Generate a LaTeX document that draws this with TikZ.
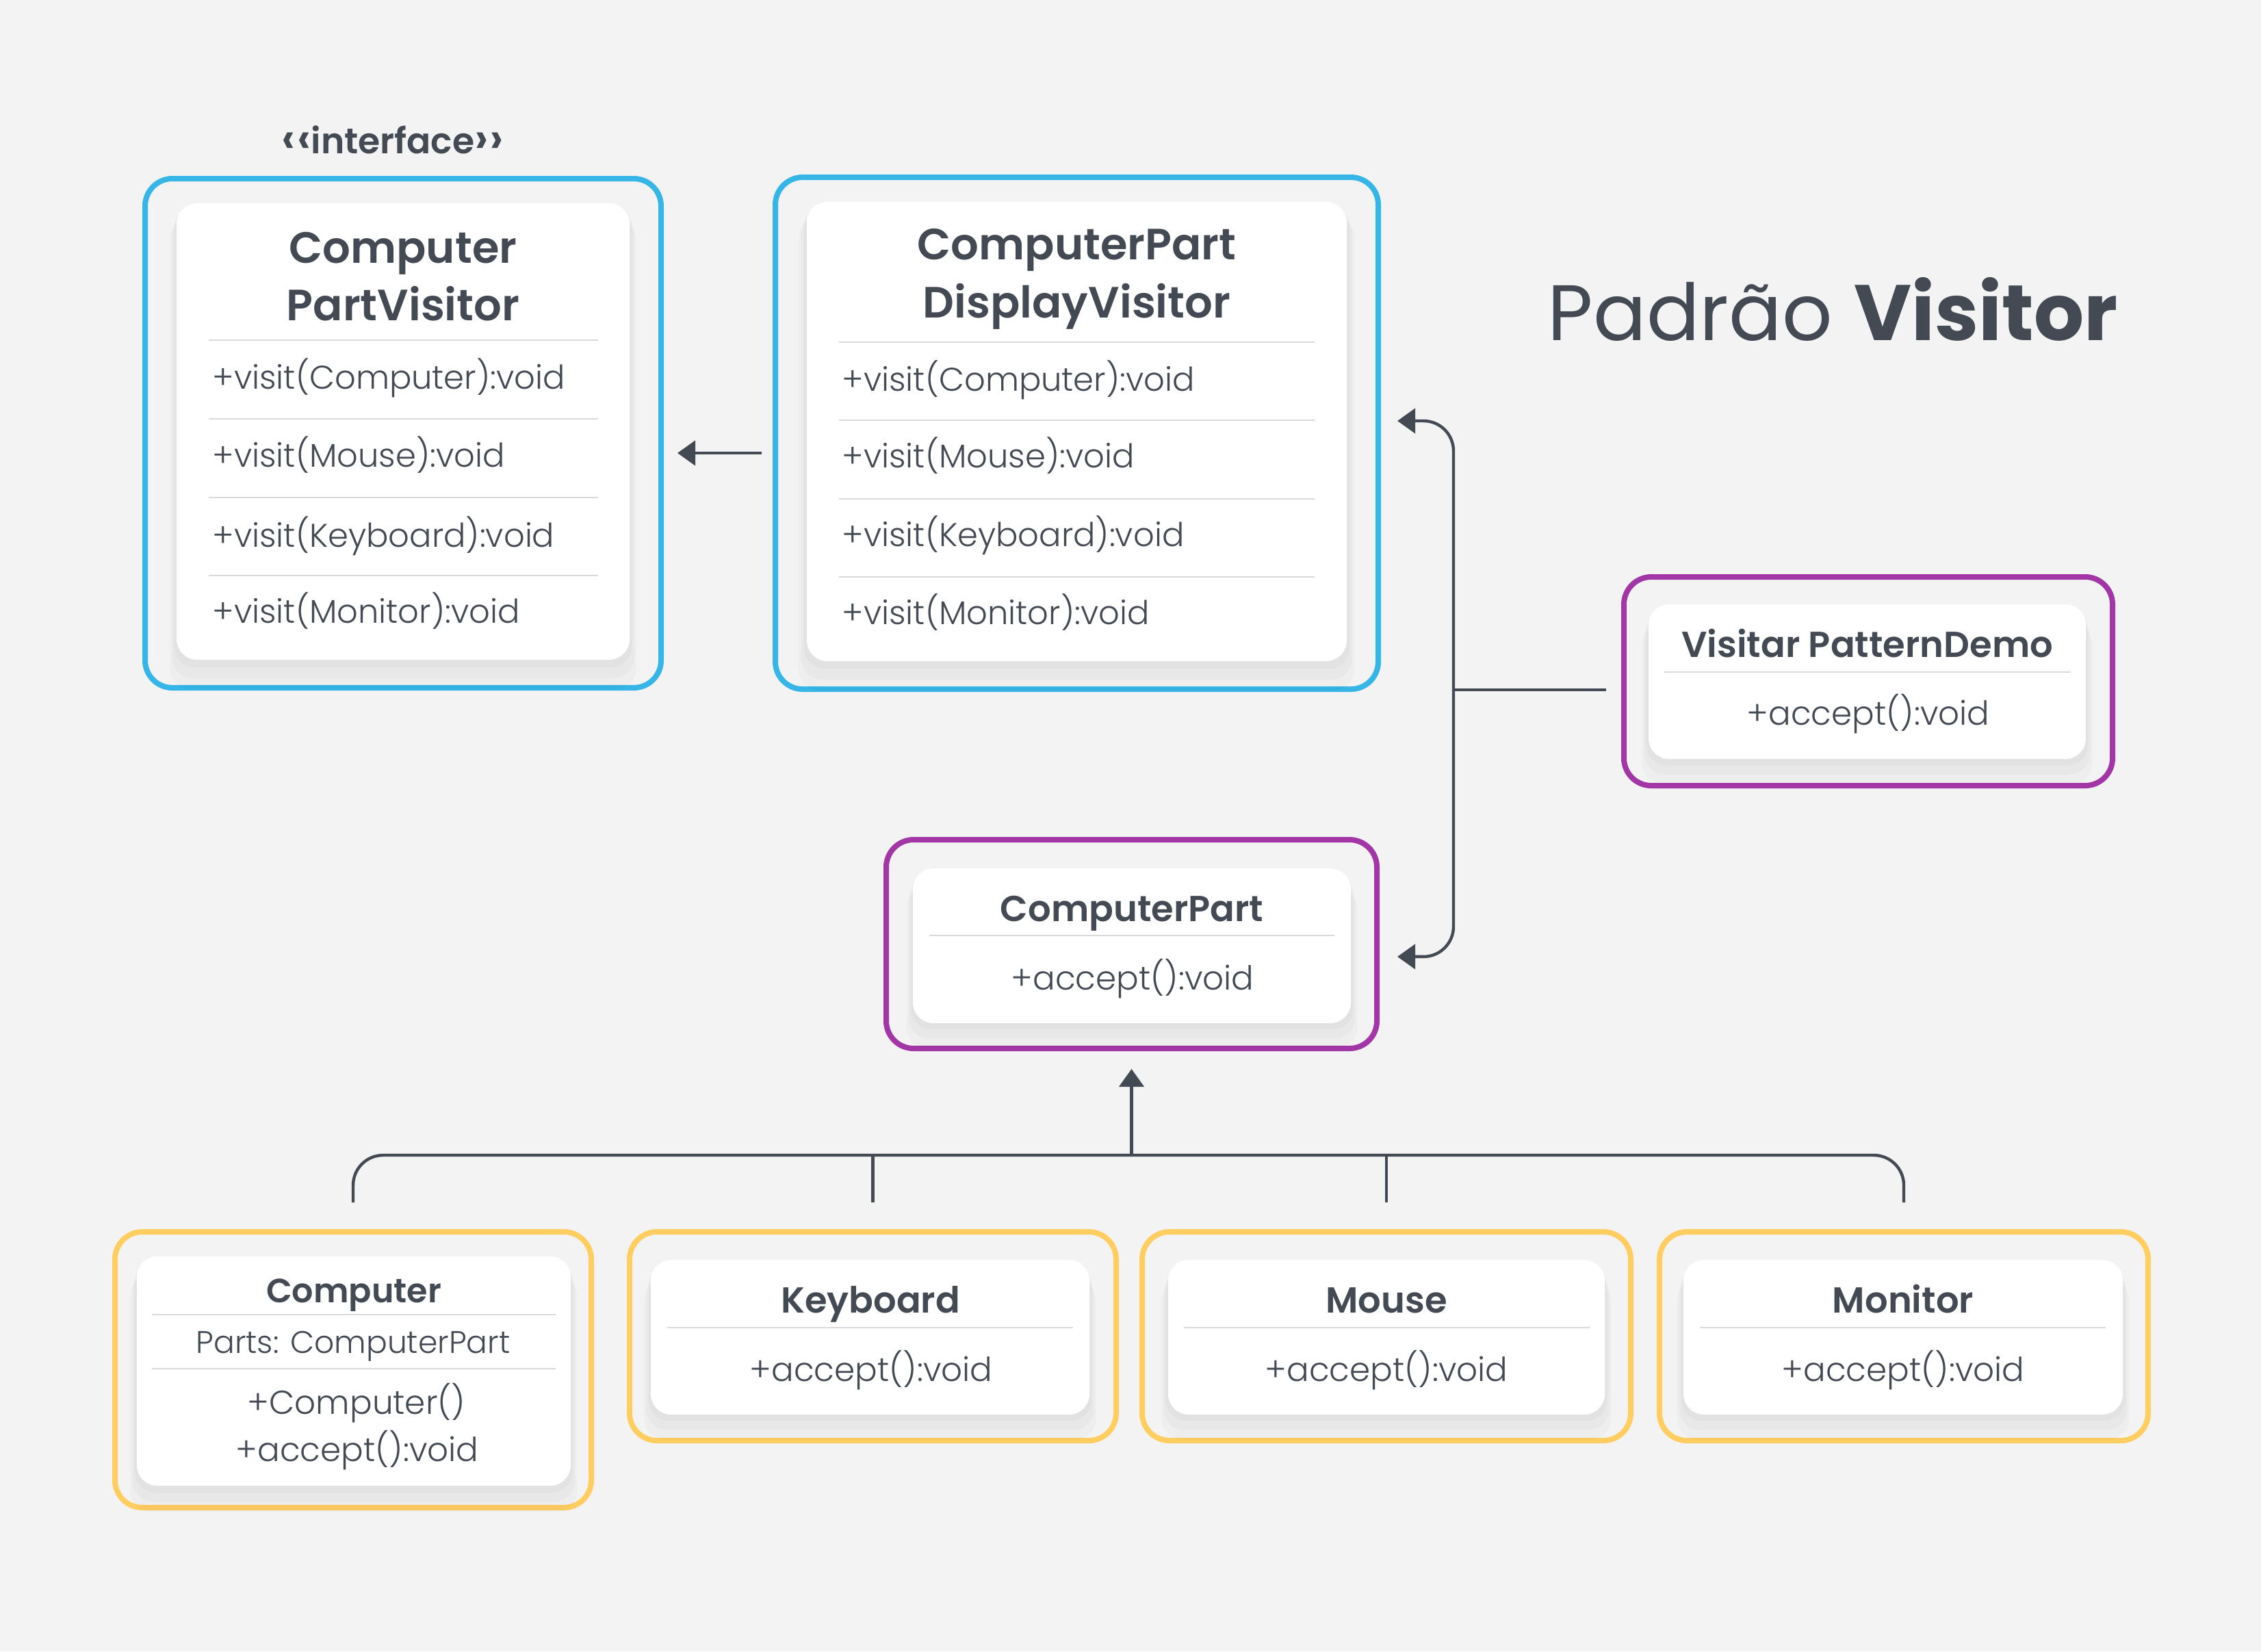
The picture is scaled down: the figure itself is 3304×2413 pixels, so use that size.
\documentclass[tikz,border=0pt]{standalone}
\usepackage{fontspec}
\setmainfont{Poppins}[UprightFont=* Light, BoldFont=* SemiBold]
\newfontfamily\popreg{Poppins}
\newfontfamily\popbold{Poppins Bold}
\usetikzlibrary{arrows.meta,shadows,calc}
\definecolor{bg}{HTML}{F3F3F3}
\definecolor{ink}{HTML}{434A53}
\definecolor{cblue}{HTML}{35B6E6}
\definecolor{cpurple}{HTML}{A336A6}
\definecolor{cyellow}{HTML}{FFCD60}
\definecolor{sepc}{HTML}{D9D9D9}
\begin{document}
\begin{tikzpicture}[x=0.25pt,y=-0.25pt,
  frame/.style={draw, line width=2pt, rounded corners=10pt, inner sep=0pt, outer sep=0pt},
  bluebox/.style={frame, draw=cblue},
  purplebox/.style={frame, draw=cpurple},
  yellowbox/.style={frame, draw=cyellow},
  card/.style={fill=white, rounded corners=7.5pt, inner sep=0pt, outer sep=0pt,
    general shadow={fill=black, opacity=0.025, shadow yshift=-2pt, shadow scale=1.01},
    general shadow={fill=black, opacity=0.025, shadow yshift=-5pt, shadow scale=1.02},
    general shadow={fill=black, opacity=0.02, shadow yshift=-8pt, shadow scale=1.03}},
  sepline/.style={draw=sepc, line width=0.6pt},
  ttl/.style={font=\bfseries\fontsize{16}{20}\selectfont, text=ink, anchor=base, inner sep=0pt},
  sttl/.style={font=\bfseries\fontsize{13.2}{16}\selectfont, text=ink, anchor=base, inner sep=0pt},
  meth/.style={font=\fontsize{12}{15}\selectfont, text=ink, anchor=base west, inner sep=0pt},
  methc/.style={font=\fontsize{12.1}{15}\selectfont, text=ink, anchor=base, inner sep=0pt},
  conn/.style={draw=ink, line width=1.1pt},
  tip/.style={-{Triangle[length=6.5pt,width=9pt]}},
]
\fill[bg] (0,0) rectangle (3304,2413);
\useasboundingbox (0,0) rectangle (3304,2413);

% ---------- outer frames ----------
\node[bluebox, minimum width=188.5pt, minimum height=186pt] (cpv) at (589,633) {};
\node[bluebox, minimum width=220.25pt, minimum height=187pt] (cpdv) at (1573.5,633) {};
\node[purplebox, minimum width=178.5pt, minimum height=76.25pt] (vpd) at (2730,995.5) {};
\node[purplebox, minimum width=179.25pt, minimum height=76.25pt] (cp) at (1653.5,1379.5) {};
\node[yellowbox, minimum width=174pt, minimum height=100.75pt] (comp) at (516,2001.5) {};
\node[yellowbox, minimum width=177.75pt, minimum height=76.25pt] (kb) at (1275.5,1952.5) {};
\node[yellowbox, minimum width=178.5pt, minimum height=76.25pt] (ms) at (2026,1952.5) {};
\node[yellowbox, minimum width=178.5pt, minimum height=76.25pt] (mn) at (2782,1952.5) {};

% ---------- cards ----------
\node[card, minimum width=165.5pt, minimum height=166.75pt] (ccpv) at (589,630.5) {};
\node[card, minimum width=197.25pt, minimum height=167.75pt] (ccpdv) at (1573.5,630.5) {};
\node[card, minimum width=159.75pt, minimum height=56.5pt] (cvpd) at (2728.5,996) {};
\node[card, minimum width=160pt, minimum height=56.5pt] (ccp) at (1654,1382) {};
\node[card, minimum width=158.5pt, minimum height=83.75pt] (ccomp) at (517,2003.5) {};
\node[card, minimum width=160.25pt, minimum height=56.5pt] (ckb) at (1271.5,1954) {};
\node[card, minimum width=159.5pt, minimum height=56.5pt] (cms) at (2026,1954) {};
\node[card, minimum width=160.5pt, minimum height=56.5pt] (cmn) at (2781,1954) {};

% ---------- separators ----------
\foreach \yy in {497,612,727,841} \draw[sepline] (305,\yy) -- (874,\yy);
\foreach \yy in {500,614,729,843} \draw[sepline] (1226,\yy) -- (1921,\yy);
\draw[sepline] (2432,982) -- (3026,982);
\draw[sepline] (1358,1367) -- (1950,1367);
\draw[sepline] (222,1921) -- (812,1921);
\draw[sepline] (222,2000) -- (812,2000);
\draw[sepline] (975,1940) -- (1568,1940);
\draw[sepline] (1730,1940) -- (2323,1940);
\draw[sepline] (2485,1940) -- (3077,1940);

% ---------- texts ----------
\node[font=\bfseries\fontsize{13}{15}\selectfont, text=ink, anchor=base, inner sep=0pt] (iface) at (574,224) {\scalebox{1.25}{‹}\kern0.5pt\scalebox{1.25}{‹}interface\scalebox{1.25}{›}\kern0.5pt\scalebox{1.25}{›}};

\node[ttl] (t1a) at (589,384) {Computer};
\node[ttl] (t1b) at (589,468) {PartVisitor};
\node[meth] (m1a) at (310,568) {+visit(Computer):void};
\node[meth] (m1b) at (310,682) {+visit(Mouse):void};
\node[meth] (m1c) at (310,799) {+visit(Keyboard):void};
\node[meth] (m1d) at (310,910) {+visit(Monitor):void};

\node[ttl] (t2a) at (1573.5,379) {ComputerPart};
\node[ttl] (t2b) at (1573.5,464) {DisplayVisitor};
\node[meth] (m2a) at (1230,571) {+visit(Computer):void};
\node[meth] (m2b) at (1230,683) {+visit(Mouse):void};
\node[meth] (m2c) at (1230,798) {+visit(Keyboard):void};
\node[meth] (m2d) at (1230,912) {+visit(Monitor):void};

\node[sttl] (t3) at (2728.5,960) {Visitar PatternDemo};
\node[methc] (m3) at (2730,1059) {+accept():void};

\node[sttl] (t4) at (1654,1346) {ComputerPart};
\node[methc] (m4) at (1655,1446) {+accept():void};

\node[sttl, font=\bfseries\fontsize{12.3}{14}\selectfont] (t5) at (517,1903) {Computer};
\node[methc, font=\fontsize{11.4}{14}\selectfont] (m5a) at (516,1977) {Parts: ComputerPart};
\node[methc] (m5b) at (521,2066) {+Computer()};
\node[methc] (m5c) at (522,2135) {+accept():void};

\node[sttl] (t6) at (1272,1918) {Keyboard};
\node[methc] (m6) at (1273,2018) {+accept():void};
\node[sttl] (t7) at (2026,1918) {Mouse};
\node[methc] (m7) at (2026,2018) {+accept():void};
\node[sttl] (t8) at (2781,1918) {Monitor};
\node[methc] (m8) at (2781,2018) {+accept():void};

\node[anchor=base west, inner sep=0pt, text=ink, font=\fontsize{28.75}{34}\selectfont] (title) at (2261,497) {{\popreg Padrão} {\popbold Visitor}};

% ---------- connectors ----------
\coordinate (rail) at (2124,0);
\coordinate (bus) at (0,1688);
\coordinate (ta) at ([xshift=7pt,yshift=4.5pt]cpdv.east);
\coordinate (tb) at ([xshift=7.5pt,yshift=-4.6pt]cp.east);
\coordinate (vs) at ([xshift=-6.5pt,yshift=-3.1pt]vpd.west);

\draw[conn, tip] ([xshift=-5pt,yshift=-7.25pt]cpdv.west) -- ([xshift=6pt,yshift=-7.25pt]cpv.east);

\draw[conn, {Triangle[length=6.5pt,width=9pt]}-{Triangle[length=6.5pt,width=9pt]}, rounded corners=11pt]
  (ta) -- (ta -| rail) -- (tb -| rail) -- (tb);
\draw[conn] (vs) -- (vs -| rail);

\draw[conn, rounded corners=11pt] ([yshift=10.75pt]comp.north) -- (comp.north |- bus) -- (mn.north |- bus) -- ([yshift=10.75pt]mn.north);
\draw[conn] ([yshift=10.75pt]kb.north) -- (kb.north |- bus);
\draw[conn] ([yshift=10.75pt]ms.north) -- (ms.north |- bus);
\draw[conn, tip] (cp.south |- bus) -- ([yshift=-7.5pt]cp.south);
\end{tikzpicture}
\end{document}
